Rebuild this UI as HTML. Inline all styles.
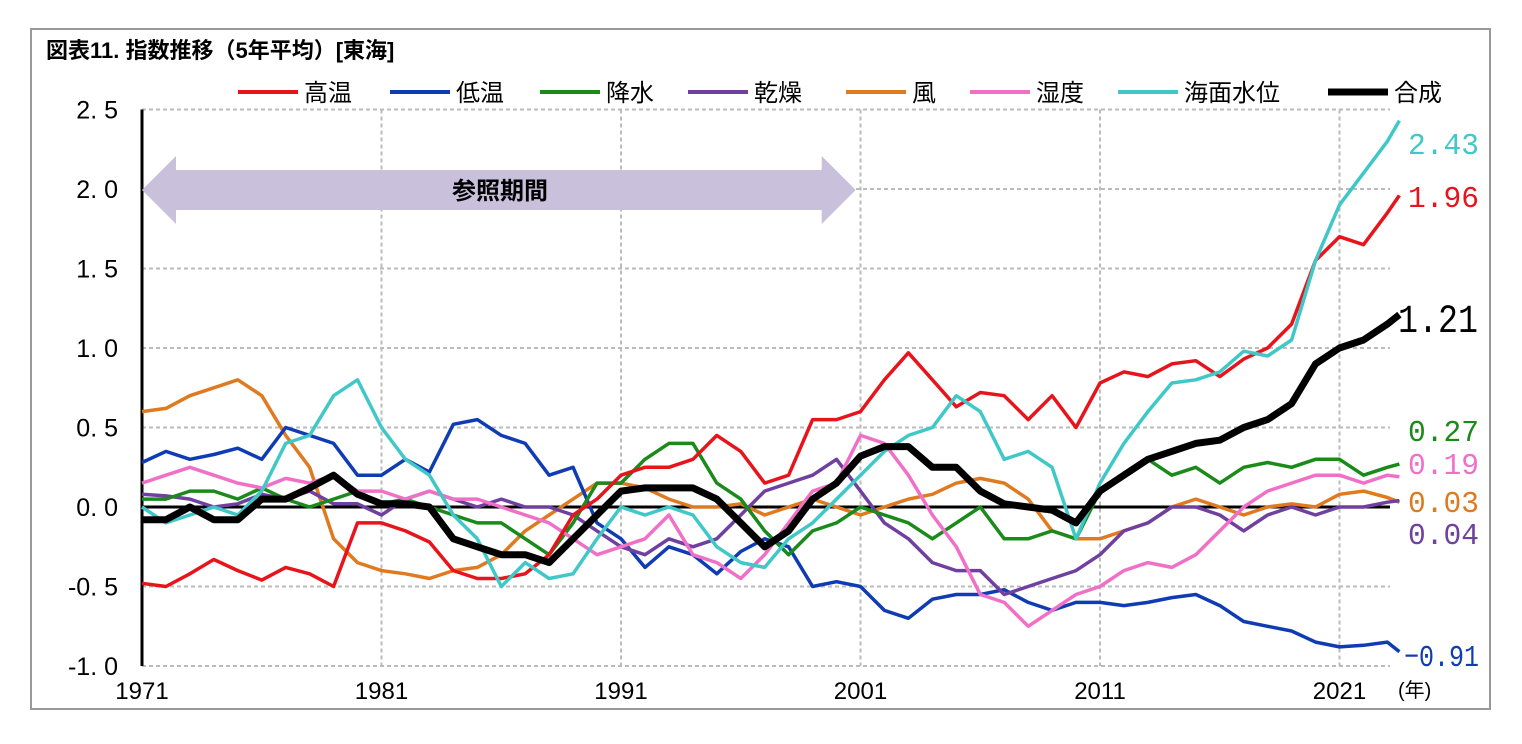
<!DOCTYPE html>
<html><head><meta charset="utf-8">
<style>
body{margin:0;background:#fff;width:1522px;height:739px;overflow:hidden;font-family:"Liberation Sans","Noto Sans CJK JP",sans-serif}
svg text{font-family:"Liberation Sans","Noto Sans CJK JP",sans-serif}
svg text.mono{font-family:"Liberation Mono",monospace}
</style></head><body>
<svg id="chart" width="1522" height="739" xmlns="http://www.w3.org/2000/svg">
<rect x="31" y="29" width="1459" height="680" fill="#fff" stroke="#999" stroke-width="2"/>
<text x="46" y="58" font-size="22" font-weight="bold">図表11. 指数推移（5年平均）[東海]</text>
<g id="grid"></g><g id="axes"></g><g id="band"></g><g id="series"></g><g id="legend"></g><g id="endlabels"></g>
</svg>
<script>
const years=[1971,1972,1973,1974,1975,1976,1977,1978,1979,1980,1981,1982,1983,1984,1985,1986,1987,1988,1989,1990,1991,1992,1993,1994,1995,1996,1997,1998,1999,2000,2001,2002,2003,2004,2005,2006,2007,2008,2009,2010,2011,2012,2013,2014,2015,2016,2017,2018,2019,2020,2021,2022,2023,2023.5];
const highTemp=[-0.48,-0.5,-0.42,-0.33,-0.4,-0.46,-0.38,-0.42,-0.5,-0.1,-0.1,-0.15,-0.22,-0.4,-0.45,-0.45,-0.42,-0.3,-0.05,0.05,0.2,0.25,0.25,0.3,0.45,0.35,0.15,0.2,0.55,0.55,0.6,0.8,0.97,0.8,0.63,0.72,0.7,0.55,0.7,0.5,0.78,0.85,0.82,0.9,0.92,0.82,0.93,1.0,1.15,1.55,1.7,1.65,1.85,1.96];
const lowTemp=[0.28,0.35,0.3,0.33,0.37,0.3,0.5,0.45,0.4,0.2,0.2,0.3,0.22,0.52,0.55,0.45,0.4,0.2,0.25,-0.1,-0.2,-0.38,-0.25,-0.3,-0.42,-0.28,-0.2,-0.25,-0.5,-0.47,-0.5,-0.65,-0.7,-0.58,-0.55,-0.55,-0.52,-0.6,-0.65,-0.6,-0.6,-0.62,-0.6,-0.57,-0.55,-0.62,-0.72,-0.75,-0.78,-0.85,-0.88,-0.87,-0.85,-0.91];
const precip=[0.05,0.05,0.1,0.1,0.05,0.12,0.05,0.0,0.05,0.1,0.02,0.05,0.0,-0.05,-0.1,-0.1,-0.2,-0.3,-0.1,0.15,0.15,0.3,0.4,0.4,0.15,0.05,-0.15,-0.3,-0.15,-0.1,0.0,-0.05,-0.1,-0.2,-0.1,0.0,-0.2,-0.2,-0.15,-0.2,0.1,0.2,0.3,0.2,0.25,0.15,0.25,0.28,0.25,0.3,0.3,0.2,0.25,0.27];
const drought=[0.08,0.07,0.05,0.0,0.02,0.08,0.05,0.1,0.02,0.02,-0.05,0.05,0.1,0.05,0.0,0.05,0.0,0.0,-0.05,-0.15,-0.25,-0.3,-0.2,-0.25,-0.2,-0.05,0.1,0.15,0.2,0.3,0.1,-0.1,-0.2,-0.35,-0.4,-0.4,-0.55,-0.5,-0.45,-0.4,-0.3,-0.15,-0.1,0.0,0.0,-0.05,-0.15,-0.05,0.0,-0.05,0.0,0.0,0.03,0.04];
const wind=[0.6,0.62,0.7,0.75,0.8,0.7,0.45,0.25,-0.2,-0.35,-0.4,-0.42,-0.45,-0.4,-0.38,-0.3,-0.15,-0.05,0.05,0.15,0.15,0.12,0.05,0.0,0.0,0.02,-0.05,0.0,0.05,0.0,-0.05,0.0,0.05,0.08,0.15,0.18,0.15,0.05,-0.15,-0.2,-0.2,-0.15,-0.1,0.0,0.05,0.0,-0.05,0.0,0.02,0.0,0.08,0.1,0.06,0.03];
const humidity=[0.15,0.2,0.25,0.2,0.15,0.12,0.18,0.15,0.2,0.1,0.1,0.05,0.1,0.05,0.05,0.0,-0.05,-0.1,-0.2,-0.3,-0.25,-0.2,-0.05,-0.3,-0.35,-0.45,-0.3,-0.1,0.1,0.15,0.45,0.4,0.2,-0.05,-0.25,-0.55,-0.6,-0.75,-0.65,-0.55,-0.5,-0.4,-0.35,-0.38,-0.3,-0.15,0.0,0.1,0.15,0.2,0.2,0.15,0.2,0.19];
const seaLevel=[0.0,-0.1,-0.05,0.0,-0.05,0.1,0.4,0.45,0.7,0.8,0.5,0.3,0.2,-0.05,-0.2,-0.5,-0.35,-0.45,-0.42,-0.2,0.0,-0.05,0.0,-0.05,-0.25,-0.35,-0.38,-0.2,-0.1,0.05,0.2,0.35,0.45,0.5,0.7,0.6,0.3,0.35,0.25,-0.2,0.15,0.4,0.6,0.78,0.8,0.85,0.98,0.95,1.05,1.55,1.9,2.1,2.3,2.43];
const composite=[-0.08,-0.08,0.0,-0.08,-0.08,0.05,0.05,0.12,0.2,0.08,0.02,0.02,0.0,-0.2,-0.25,-0.3,-0.3,-0.35,-0.2,-0.05,0.1,0.12,0.12,0.12,0.05,-0.1,-0.25,-0.15,0.05,0.15,0.32,0.38,0.38,0.25,0.25,0.1,0.02,0.0,-0.02,-0.1,0.1,0.2,0.3,0.35,0.4,0.42,0.5,0.55,0.65,0.9,1.0,1.05,1.15,1.21];
const yTicks=[2.5,2.0,1.5,1.0,0.5,0.0,-0.5,-1.0];
const yTickLabels=["2.5","2.0","1.5","1.0","0.5","0.0","-0.5","-1.0"];
const xTicks=[1971,1981,1991,2001,2011,2021];
const seriesNames=["高温","低温","降水","乾燥","風","湿度","海面水位","合成"];
const endLabels=["1.96","-0.91","0.27","0.04","0.03","0.19","2.43","1.21"];

const NS="http://www.w3.org/2000/svg";
const X=y=>142+(y-1971)*23.95;
const Y=v=>507-v*159;
function mk(tag,attrs,parent){const e=document.createElementNS(NS,tag);for(const k in attrs)e.setAttribute(k,attrs[k]);document.getElementById(parent).appendChild(e);return e;}

yTicks.forEach((t,i)=>{
  if(t!==0){const g=mk('line',{x1:142,x2:1390,y1:Y(t),y2:Y(t),stroke:'#bbb','stroke-width':2,'stroke-dasharray':'4,3'},'grid');
  
  }
  const l=mk('text',{x:118,y:Y(t)+9,'font-size':25,'text-anchor':'end'},'axes');
  l.textContent=yTickLabels[i].replace('.','. ');
  
  
});
xTicks.forEach(t=>{
  if(t!==1971){const g=mk('line',{x1:X(t),x2:X(t),y1:Y(2.5),y2:Y(-1),stroke:'#bbb','stroke-width':2,'stroke-dasharray':'4,3'},'grid');
  
  }
  const l=mk('text',{x:X(t),y:699,'font-size':24,'text-anchor':'middle'},'axes');
  l.textContent=String(t);
  
  
});
const yl=mk('text',{x:1398,y:697,'font-size':20},'axes');yl.textContent='(年)';


const ya=mk('line',{x1:142,x2:142,y1:Y(2.5),y2:Y(-1),stroke:'#000','stroke-width':3},'axes');


const za=mk('line',{x1:142,x2:1390,y1:Y(0),y2:Y(0),stroke:'#000','stroke-width':3},'axes');



const bx1=X(1971),bx2=X(2000.8);
const ar=mk('polygon',{points:`${bx1},190 ${bx1+34},156 ${bx1+34},170 ${bx2-34},170 ${bx2-34},156 ${bx2},190 ${bx2-34},224 ${bx2-34},210 ${bx1+34},210 ${bx1+34},224`,fill:'#c9c1dc'},'band');


const at=mk('text',{x:500,y:199,'font-size':24,'font-weight':'bold','text-anchor':'middle'},'band');at.textContent='参照期間';



const data=[highTemp,lowTemp,precip,drought,wind,humidity,seaLevel,composite];
const colors=['#e8141c','#0f3cb4','#1a8a1a','#7040a0','#e07a20','#f070c8','#40c8c8','#000'];
const names=['high-temp-line','low-temp-line','precip-line','drought-line','wind-line','humidity-line','sea-level-line','composite-line'];
const order=[4,1,3,2,5,0,6,7];
order.forEach(i=>{
  const d=data[i].map((v,k)=>(k?'L':'M')+X(years[k]).toFixed(1)+','+Y(v).toFixed(1)).join(' ');
  const p=mk('path',{d:d,fill:'none',stroke:colors[i],'stroke-width':i===7?7:3.5,'stroke-linejoin':'round'},'series');
  
  
});
const lx=[238,390,540,688,846,970,1118,1328];
seriesNames.forEach((n,i)=>{
  const l=mk('line',{x1:lx[i],x2:lx[i]+60,y1:92,y2:92,stroke:colors[i],'stroke-width':i===7?7:4},'legend');
  
  
  const t=mk('text',{x:lx[i]+66,y:101,'font-size':24},'legend');t.textContent=n;
  
  
});
const endY=[196,655,430,533,501,463,143,318];
endLabels.forEach((s,i)=>{
  const big=i===7, neg=s[0]==='-';
  const t=mk('text',{x:big?1398:(neg?1404:1408),y:endY[i]+(big?14:11),'font-size':big?40:31,fill:colors[i],'class':'mono',textLength:big?80:(neg?75:71),lengthAdjust:'spacingAndGlyphs'},'endlabels');
  t.textContent=s.replace('-','−');
  
  
});
</script>
</body></html>
